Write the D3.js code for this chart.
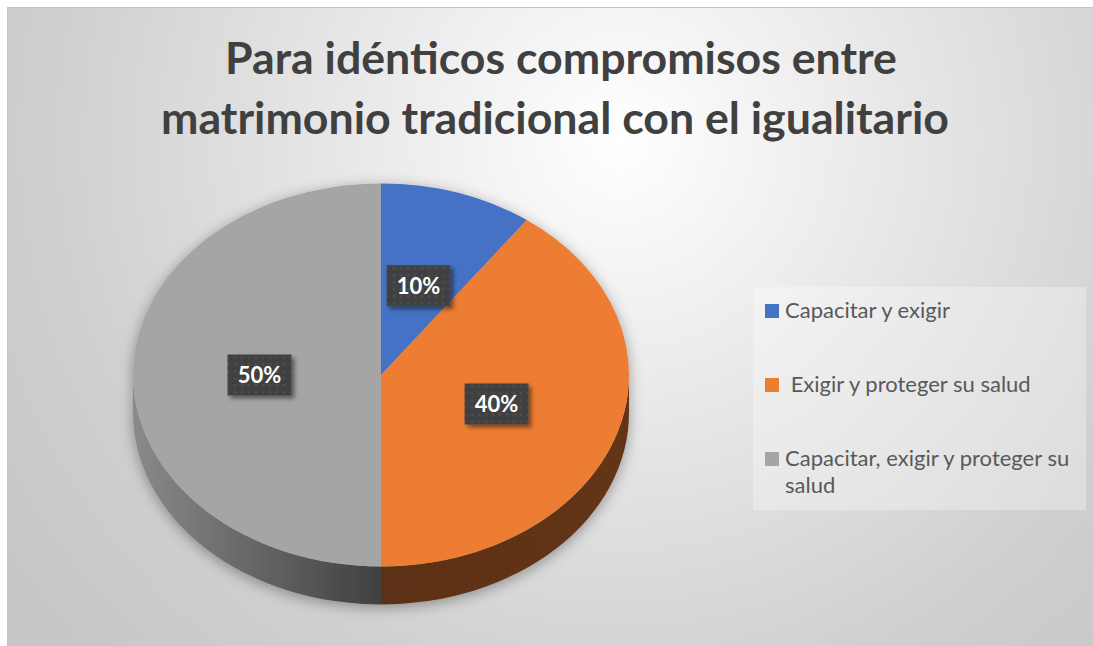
<!DOCTYPE html>
<html>
<head>
<meta charset="utf-8">
<script src="https://cdn.jsdelivr.net/npm/d3@7"></script>
<style>
  body { margin: 0; background: #fff; }
  svg { display: block; }
</style>
</head>
<body>
<div id="chart"></div>
<script>
// chart data
var titleLines = ["Para idénticos compromisos entre", "matrimonio tradicional con el igualitario"];
var categories = ["Capacitar y exigir", " Exigir y proteger su salud", "Capacitar, exigir y proteger su salud"];
var legendLines = [["Capacitar y exigir"], [" Exigir y proteger su salud"], ["Capacitar, exigir y proteger su", "salud"]];
var values = [10, 40, 50];
var labels = ["10%", "40%", "50%"];
var colors = ["#4472C4", "#ED7D31", "#A5A5A5"];

(function() {
    var W = 1093, H = 646;
    var cx = 381, cy = 375, rx = 248, ry = 191.5, depth = 38;

    var svg = d3.select("#chart").append("svg")
        .attr("width", W)
        .attr("height", H);

    var defs = svg.append("defs");

    // background radial gradient
    var bg = defs.append("radialGradient")
        .attr("id", "bg")
        .attr("gradientUnits", "userSpaceOnUse")
        .attr("cx", 620).attr("cy", 140).attr("r", 760);
    bg.append("stop").attr("offset", "0").attr("stop-color", "#ffffff");
    bg.append("stop").attr("offset", "0.75").attr("stop-color", "#cfcfcf");
    bg.append("stop").attr("offset", "1").attr("stop-color", "#c6c6c6");

    var sideGray = defs.append("linearGradient")
        .attr("id", "sideGray")
        .attr("gradientUnits", "userSpaceOnUse")
        .attr("x1", cx - rx).attr("x2", cx).attr("y1", 0).attr("y2", 0);
    sideGray.append("stop").attr("offset", "0").attr("stop-color", "#8a8a8a");
    sideGray.append("stop").attr("offset", "1").attr("stop-color", "#404040");

    var sideOrange = defs.append("linearGradient")
        .attr("id", "sideOrange")
        .attr("gradientUnits", "userSpaceOnUse")
        .attr("x1", cx).attr("x2", cx + rx).attr("y1", 0).attr("y2", 0);
    sideOrange.append("stop").attr("offset", "0").attr("stop-color", "#5c3014");
    sideOrange.append("stop").attr("offset", "1").attr("stop-color", "#633516");

    var sideFill = ["#23406f", "url(#sideOrange)", "url(#sideGray)"];

    var pieShadow = defs.append("filter").attr("id", "pieShadow")
        .attr("x", "-20%").attr("y", "-20%").attr("width", "140%").attr("height", "140%");
    pieShadow.append("feDropShadow")
        .attr("dx", 0).attr("dy", 3).attr("stdDeviation", 7)
        .attr("flood-color", "#000").attr("flood-opacity", 0.35);

    var boxShadow = defs.append("filter").attr("id", "boxShadow")
        .attr("x", "-30%").attr("y", "-30%").attr("width", "160%").attr("height", "160%");
    boxShadow.append("feDropShadow")
        .attr("dx", 3).attr("dy", 3).attr("stdDeviation", 2)
        .attr("flood-color", "#000").attr("flood-opacity", 0.45);

    var dots = defs.append("pattern")
        .attr("id", "dots")
        .attr("patternUnits", "userSpaceOnUse")
        .attr("width", 7).attr("height", 7);
    dots.append("rect").attr("width", 7).attr("height", 7).attr("fill", "#404040");
    dots.append("circle").attr("cx", 3.5).attr("cy", 3.5).attr("r", 1.3).attr("fill", "#4f4f4f");

    // frame
    svg.append("rect")
        .attr("x", 7.5).attr("y", 7.5)
        .attr("width", W).attr("height", H)
        .attr("fill", "url(#bg)")
        .attr("stroke", "#c4c4c4");

    // title
    var title = svg.append("g")
        .attr("font-family", "Lato, 'Open Sans', sans-serif")
        .attr("font-weight", "bold")
        .attr("fill", "#404040")
        .attr("text-anchor", "middle");

    var t1 = title.append("text").attr("x", 561).attr("y", 74).attr("font-size", 40).text(titleLines[0]);
    var fs = 40 * 672 / t1.node().getComputedTextLength();
    t1.attr("font-size", fs);
    title.append("text").attr("x", 555).attr("y", 134).attr("font-size", fs).text(titleLines[1]);

    // pie
    var pie = d3.pie().sort(null).value(function(d) { return d; });
    var arcs = pie(values);

    function px(a) { return cx + rx * Math.sin(a); }
    function py(a) { return cy - ry * Math.cos(a); }

    var pieG = svg.append("g").attr("filter", "url(#pieShadow)");

    // front walls
    pieG.selectAll(".side")
        .data(arcs)
        .enter().append("path")
        .attr("class", "side")
        .attr("fill", function(d, i) { return sideFill[i]; })
        .attr("d", function(d) {
            var s = Math.max(d.startAngle, Math.PI / 2),
                e = Math.min(d.endAngle, 3 * Math.PI / 2);
            if (s >= e) return null;
            return "M" + px(s) + "," + py(s) +
                "A" + rx + "," + ry + " 0 0 1 " + px(e) + "," + py(e) +
                "L" + px(e) + "," + (py(e) + depth) +
                "A" + rx + "," + ry + " 0 0 0 " + px(s) + "," + (py(s) + depth) + "Z";
        });

    // top faces, circular arcs squashed into an ellipse
    var arc = d3.arc().innerRadius(0).outerRadius(rx);
    pieG.append("g")
        .attr("transform", "translate(" + cx + "," + cy + ") scale(1," + (ry / rx) + ")")
        .selectAll(".top")
        .data(arcs)
        .enter().append("path")
        .attr("class", "top")
        .attr("fill", function(d, i) { return colors[i]; })
        .attr("d", arc);

    // data labels
    var labelArc = d3.arc().innerRadius(rx * 0.49).outerRadius(rx * 0.49);
    var lab = svg.selectAll(".lab")
        .data(arcs)
        .enter().append("g")
        .attr("class", "lab")
        .attr("transform", function(d) {
            var c = labelArc.centroid(d);
            return "translate(" + (cx + c[0]) + "," + (cy + c[1] * ry / rx) + ")";
        });

    lab.append("rect")
        .attr("x", -32).attr("y", -20.5)
        .attr("width", 64).attr("height", 41)
        .attr("fill", "url(#dots)")
        .attr("filter", "url(#boxShadow)");

    lab.append("text")
        .attr("text-anchor", "middle")
        .attr("dy", "0.36em")
        .attr("font-family", "Lato, 'Open Sans', sans-serif")
        .attr("font-weight", "bold")
        .attr("font-size", 22)
        .attr("fill", "#fff")
        .text(function(d, i) { return labels[i]; });

    // legend
    var legend = svg.append("g");
    legend.append("rect")
        .attr("x", 753).attr("y", 287)
        .attr("width", 333).attr("height", 223)
        .attr("fill", "#fff").attr("fill-opacity", 0.3);

    // size legend font so the longest line spans like the original
    var probe = legend.append("text")
        .attr("font-family", "Lato, 'Open Sans', sans-serif")
        .attr("font-size", 20)
        .text(legendLines[2][0]);
    var lfs = Math.min(22, 20 * 289 / probe.node().getComputedTextLength());
    probe.remove();

    var rowY = [318, 392, 466];
    var item = legend.selectAll(".item")
        .data(categories)
        .enter().append("g")
        .attr("class", "item")
        .attr("transform", function(d, i) { return "translate(0," + rowY[i] + ")"; });

    item.append("rect")
        .attr("x", 765).attr("y", -14)
        .attr("width", 14).attr("height", 14)
        .attr("fill", function(d, i) { return colors[i]; });

    item.append("text")
        .attr("x", 785)
        .attr("font-family", "Lato, 'Open Sans', sans-serif")
        .attr("font-size", lfs)
        .attr("fill", "#595959")
        .attr("xml:space", "preserve")
        .style("white-space", "pre")
        .selectAll("tspan")
        .data(function(d, i) { return legendLines[i]; })
        .enter().append("tspan")
        .attr("x", 785)
        .attr("dy", function(d, j) { return j ? 27 : 0; })
        .text(function(d) { return d; });
})();
</script>
</body>
</html>
